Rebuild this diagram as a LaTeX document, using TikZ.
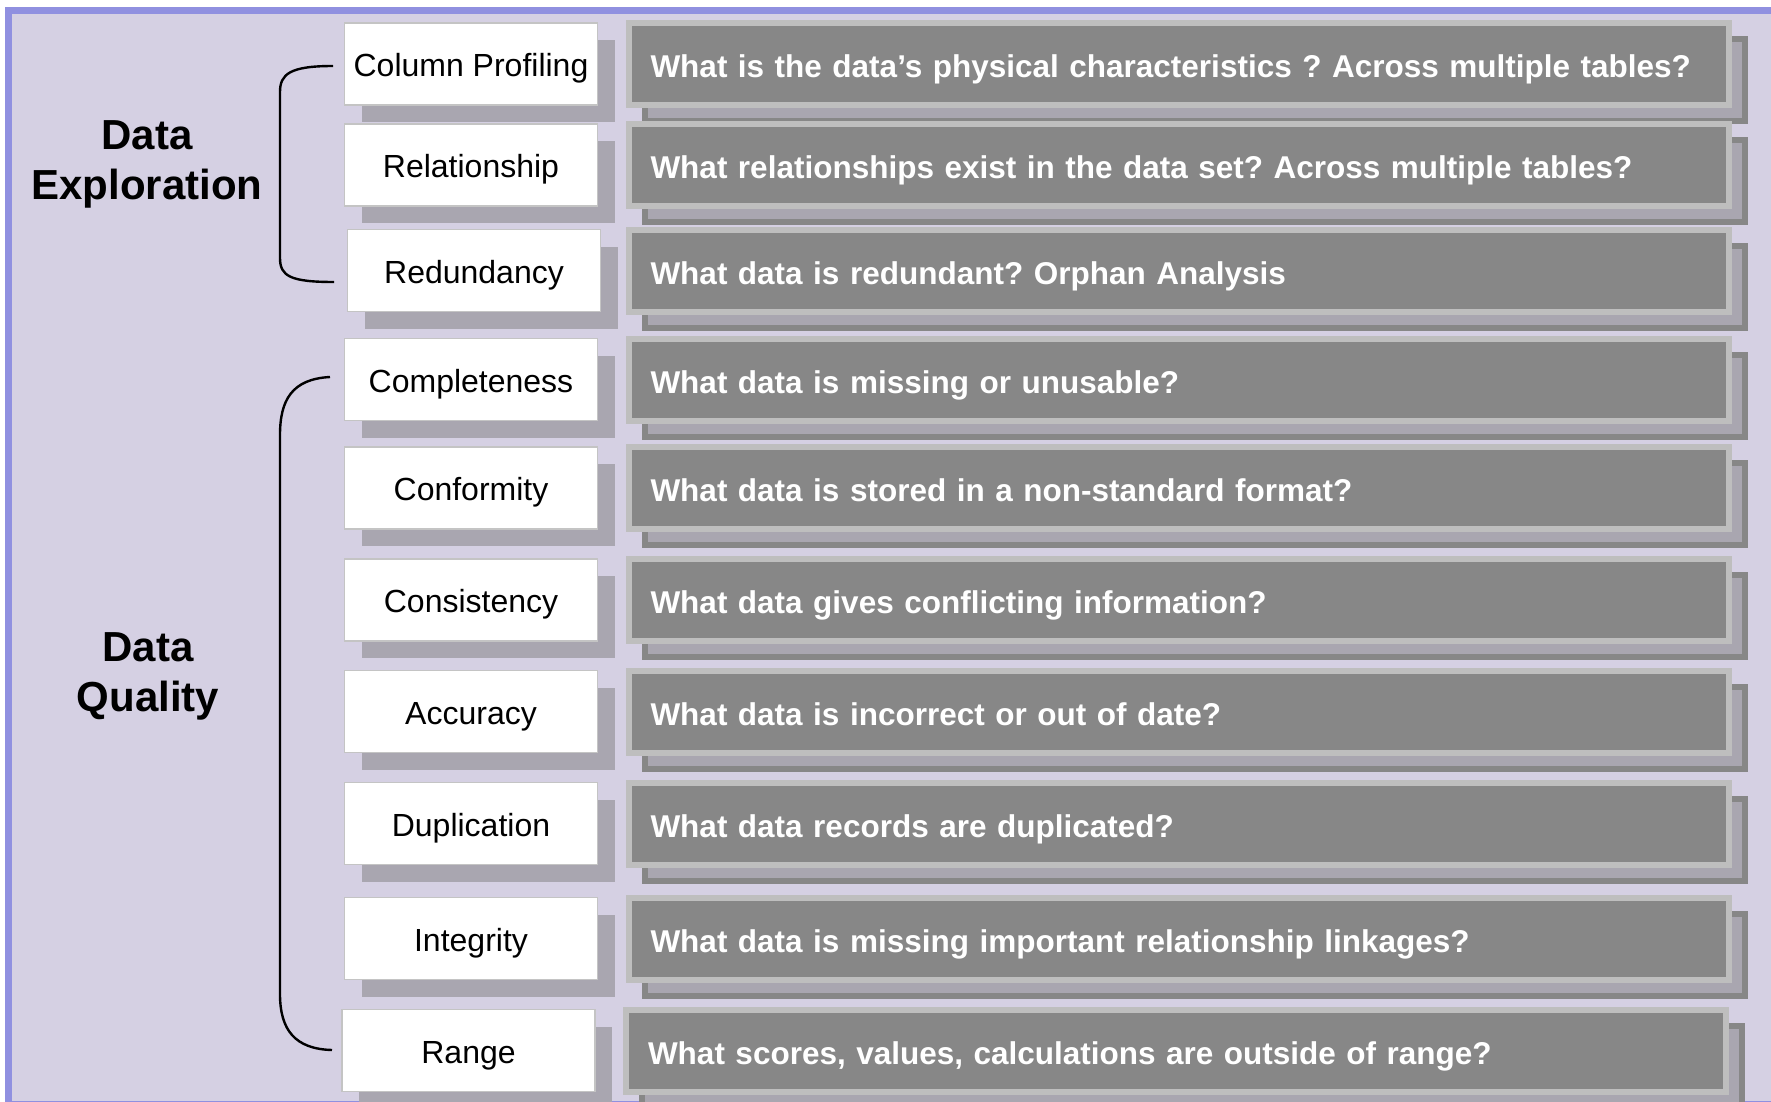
\documentclass[tikz,border=0pt]{standalone}
\usepackage{fontspec}
\setmainfont{Liberation Sans}
\usetikzlibrary{positioning,shadows}

\definecolor{bgfill}{HTML}{D5D0E3}
\definecolor{bgline}{HTML}{9090E0}
\definecolor{shadefill}{HTML}{A9A6B0}
\definecolor{qfill}{HTML}{878787}
\definecolor{qline}{HTML}{BEBEBE}
\definecolor{boxline}{HTML}{C4C4C4}

\frenchspacing

\begin{document}
\begin{tikzpicture}[x=0.5pt,y=-0.5pt,
  dim/.style={draw=boxline, line width=0.75pt, fill=white, outer sep=0pt,
    minimum width=126.5pt, minimum height=41pt, inner sep=0pt,
    text height=15pt, text depth=2.5pt,
    font=\fontsize{16}{19}\selectfont,
    general shadow={fill=shadefill, shadow xshift=8.5pt, shadow yshift=-8.5pt}},
  ques/.style={draw=qline, line width=3pt, fill=qfill, text=white, outer sep=0pt,
    minimum height=41pt, text width=528pt, inner xsep=11pt, inner ysep=0pt,
    text height=16.2pt, text depth=2.7pt,
    align=left, font=\bfseries\fontsize{15.75}{19}\selectfont,
    general shadow={fill=shadefill, draw=qfill, line width=3pt,
      shadow xshift=8pt, shadow yshift=-8pt}},
  group/.style={font=\bfseries\fontsize{21}{25}\selectfont, align=center},
  brace/.style={line width=1.2pt}]

\useasboundingbox (0,0) rectangle (1771,1102);

% background panel
\fill[bgfill] (8,11) rectangle (1790,1110);
\draw[bgline, line width=3.5pt] (1790,11) -- (8,11) -- (8,1104) -- (1790,1104);

% exploration
\node[dim] (cp) at (471,64) {Column Profiling};
\node[ques, right=15.5pt of cp] (cpq) {What is the data's physical characteristics ? Across multiple tables?};

\node[dim] (rel) at (471,165) {Relationship};
\node[ques, right=15.5pt of rel] (relq) {What relationships exist in the data set? Across multiple tables?};

\node[dim] (red) at (474,270.5) {Redundancy};
\node[ques, right=14pt of red] (redq) {What data is redundant? Orphan Analysis};

% quality
\node[dim] (comp) at (471,379.5) {Completeness};
\node[ques, right=15.5pt of comp] (compq) {What data is missing or unusable?};

\node[dim] (conf) at (471,488) {Conformity};
\node[ques, right=15.5pt of conf] (confq) {What data is stored in a non-standard format?};

\node[dim] (cons) at (471,600) {Consistency};
\node[ques, right=15.5pt of cons] (consq) {What data gives conflicting information?};

\node[dim] (acc) at (471,711.5) {Accuracy};
\node[ques, right=15.5pt of acc] (accq) {What data is incorrect or out of date?};

\node[dim] (dup) at (471,823.5) {Duplication};
\node[ques, right=15.5pt of dup] (dupq) {What data records are duplicated?};

\node[dim] (integ) at (471,938.5) {Integrity};
\node[ques, right=15.5pt of integ] (integq) {What data is missing important relationship linkages?};

\node[dim] (rng) at (468.5,1050.5) {Range};
\node[ques, right=15.5pt of rng] (rngq) {What scores, values, calculations are outside of range?};

% group labels
\node[group] (dexp) at (147,164) {Data\\Exploration};
\node[group] (dqual) at (148,676) {Data\\Quality};

% brackets
\coordinate (b1) at (333,66);
\coordinate (b2) at (334,282);
\coordinate (b3) at (330,377);
\coordinate (b4) at (332,1050);
\draw[brace] (b1) .. controls (290,66) and (280,74) .. (280,92) -- (280,258)
  .. controls (280,276) and (290,282) .. (b2);
\draw[brace] (b3) .. controls (292,379) and (280,400) .. (280,435) -- (280,994)
  .. controls (280,1030) and (295,1049) .. (b4);

\end{tikzpicture}
\end{document}
